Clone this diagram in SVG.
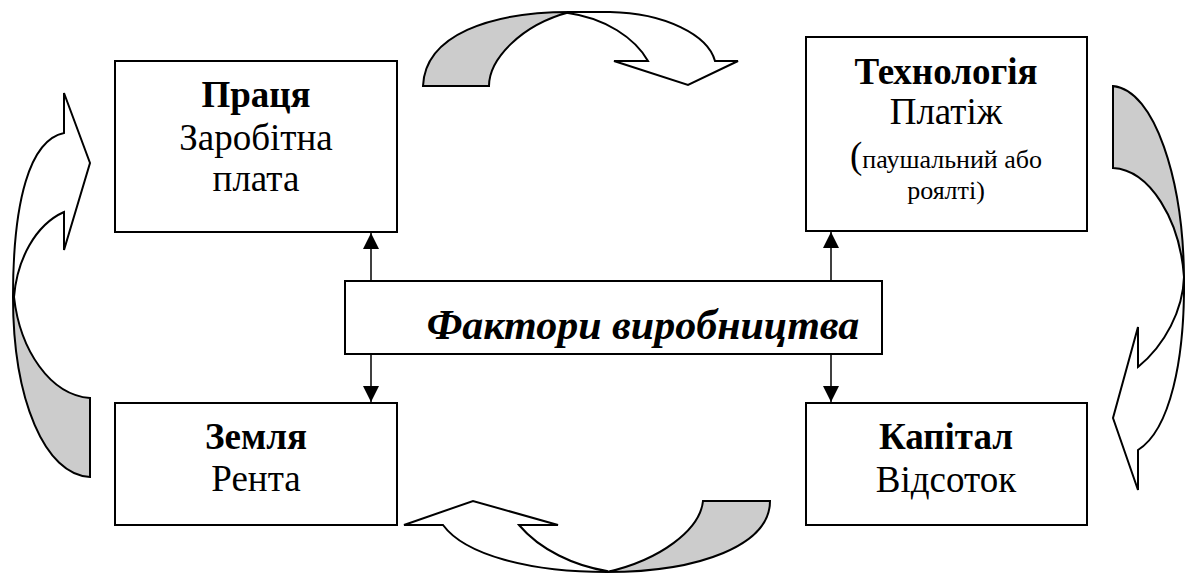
<svg xmlns="http://www.w3.org/2000/svg" width="1185" height="573" viewBox="0 0 1185 573">
<style>
.box{fill:#fff;stroke:#000;stroke-width:2}
.t{font-family:"Liberation Serif","Times New Roman",serif;fill:#000;text-anchor:middle}
.b{font-weight:bold}
.big{font-size:37px}
.small{font-size:26px}
.ctr{font-size:42px;font-weight:bold;font-style:italic}
.con{stroke:#000;stroke-width:1.5;fill:none}
.cw{fill:#fff;stroke:#000;stroke-width:2;stroke-linejoin:miter}
.cg{fill:#cccccc;stroke:#000;stroke-width:2}
</style>
<defs>
<marker id="ah" viewBox="0 0 10 10" refX="10" refY="5" markerWidth="16" markerHeight="16" markerUnits="userSpaceOnUse" orient="auto">
<path d="M0,0 L10,5 L0,10 Z" fill="#000"/>
</marker>
</defs>
<rect width="1185" height="573" fill="#fff"/>

<g id="curved-arrows">
<g id="arrow-top">
<path class="cw" d="M568,12 L610,12 C665,13 708,35 715,61 L738,61 L688,85 L614,61 L648,61 C635,38 605,18 568,13 Z"/>
<path class="cg" d="M423,86 C425,35 490,12 570,12 C520,25 489,60 489,86 Z"/>
</g>
<g id="arrow-right">
<path class="cw" d="M1184,277 C1185,360 1170,430 1138,450 L1138,490 L1113,418 L1138,327 L1138,367 C1165,345 1183,310 1184,277 Z"/>
<path class="cg" d="M1113,86 C1155,90 1183,180 1184,277 C1180,220 1150,170 1113,168 Z"/>
</g>
<g id="arrow-bottom">
<path class="cw" d="M607,572 C530,572 465,555 443,525 L404,525 L473,501 L558,525 L519,525 C540,550 575,566 607,571 Z"/>
<path class="cg" d="M703,501 L770,501 C770,545 700,572 607,572 C660,560 700,530 703,501 Z"/>
</g>
<g id="arrow-left">
<path class="cw" d="M13,297 C13,200 30,140 64,133 L64,93 L90,163 L64,250 L64,212 C35,225 17,260 14,297 Z"/>
<path class="cg" d="M13,297 C13,400 45,475 90,477 L90,398 C50,395 20,350 14,297 Z"/>
</g>
</g>

<g id="connectors">
<line class="con" x1="371" y1="281" x2="371" y2="233" marker-end="url(#ah)"/>
<line class="con" x1="831" y1="281" x2="831" y2="232" marker-end="url(#ah)"/>
<line class="con" x1="371" y1="354" x2="371" y2="402" marker-end="url(#ah)"/>
<line class="con" x1="831" y1="354" x2="831" y2="402" marker-end="url(#ah)"/>
</g>

<g id="node-pratsia">
<rect class="box" x="115" y="61" width="282" height="171"/>
<text class="t b big" x="256" y="107">Праця</text>
<text class="t big" x="256" y="150">Заробітна</text>
<text class="t big" x="256" y="191">плата</text>
</g>

<g id="node-tekhnolohiia">
<rect class="box" x="806" y="37" width="281" height="194"/>
<text class="t b big" x="946" y="84">Технологія</text>
<text class="t big" x="946" y="124">Платіж</text>
<text class="t small" x="946" y="168"><tspan class="big">(</tspan>паушальний або</text>
<text class="t small" x="946" y="199">роялті)</text>
</g>

<g id="node-faktory">
<rect class="box" x="345" y="281" width="537" height="73"/>
<text class="t ctr" x="643" y="339">Фактори виробництва</text>
</g>

<g id="node-zemlia">
<rect class="box" x="115" y="403" width="282" height="122"/>
<text class="t b big" x="256" y="449">Земля</text>
<text class="t big" x="256" y="491">Рента</text>
</g>

<g id="node-kapital">
<rect class="box" x="806" y="403" width="281" height="122"/>
<text class="t b big" x="946" y="449">Капітал</text>
<text class="t big" x="946" y="492">Відсоток</text>
</g>
</svg>
